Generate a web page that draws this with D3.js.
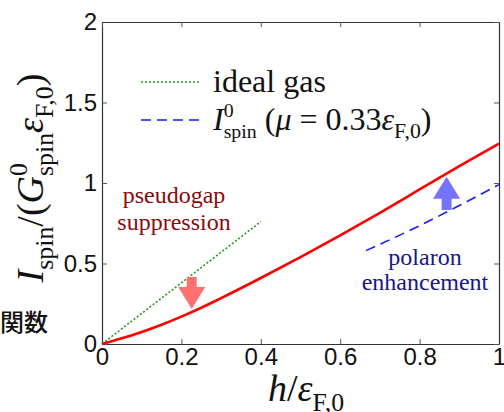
<!DOCTYPE html>
<html>
<head>
<meta charset="utf-8">
<script src="https://cdn.jsdelivr.net/npm/d3@7"></script>
<style>
body { margin: 0; background: #fff; }
</style>
</head>
<body>
<svg width="504" height="412"></svg>
<script>
// I_spin / (G0 eF) vs h/eF  (strong coupling result)
var hVals    = [0, 0.05, 0.1, 0.15, 0.2, 0.25, 0.3, 0.4, 0.5, 0.6, 0.7, 0.8, 0.9, 1.0];
var spinVals = [0, 0.035, 0.075, 0.12, 0.17, 0.225, 0.285, 0.41, 0.54, 0.675, 0.815, 0.96, 1.105, 1.245];
// ideal gas
var idealH    = [0, 0.4];
var idealVals = [0, 0.76];
// I0_spin (mu = 0.33 eF)
var polH    = [0.665, 0.8, 0.9, 1.0];
var polVals = [0.58, 0.735, 0.86, 0.99];
// arrows: position, start value, end value
var arrowH    = [0.226, 0.868];
var arrowFrom = [0.416, 0.832];
var arrowTo   = [0.217, 1.039];

var xTicks = [0, 0.2, 0.4, 0.6, 0.8, 1];
var xTickLabels = ["0", "0.2", "0.4", "0.6", "0.8", "1"];
var yTicks = [0, 0.5, 1, 1.5, 2];
var yTickLabels = ["0", "0.5", "1", "1.5", "2"];

var SERIF = "'Liberation Serif'", SANS = "'Liberation Sans'", CJK = "'Noto Sans CJK JP'";

var svg = d3.select("svg");
var margin = {top: 22, right: 5, bottom: 68, left: 102},
    width = 504 - margin.left - margin.right,
    height = 412 - margin.top - margin.bottom;

var x = d3.scaleLinear().domain([0, 1]).range([margin.left, margin.left + width]);
var y = d3.scaleLinear().domain([0, 2]).range([margin.top + height, margin.top]);

// axes (ticks inward on all sides)
function styleAxis(g) {
  g.select(".domain").attr("stroke", "#333").attr("stroke-width", 1.2);
  g.selectAll(".tick line").attr("stroke", "#555");
  g.selectAll(".tick text")
      .style("font-family", SANS).style("font-size", "24px").attr("fill", "#111");
}
svg.append("g")
    .attr("transform", "translate(0," + y(0) + ")")
    .call(d3.axisBottom(x).tickValues(xTicks).tickSize(-5).tickSizeOuter(0).tickPadding(4)
      .tickFormat(function(d, i) { return xTickLabels[i]; }))
    .call(styleAxis);
svg.append("g")
    .attr("transform", "translate(" + x(0) + ",0)")
    .call(d3.axisLeft(y).tickValues(yTicks).tickSize(-5).tickSizeOuter(0).tickPadding(5)
      .tickFormat(function(d, i) { return yTickLabels[i]; }))
    .call(styleAxis);
svg.append("g")
    .attr("transform", "translate(0," + y(2) + ")")
    .call(d3.axisTop(x).tickValues(xTicks).tickSize(-5).tickSizeOuter(0).tickFormat(""))
    .call(styleAxis);
svg.append("g")
    .attr("transform", "translate(" + x(1) + ",0)")
    .call(d3.axisRight(y).tickValues(yTicks).tickSize(-5).tickSizeOuter(0).tickFormat(""))
    .call(styleAxis);

var line = d3.line()
    .x(function(d) { return x(d[0]); })
    .y(function(d) { return y(d[1]); });

svg.append("path")
    .datum(d3.zip(idealH, idealVals))
    .attr("d", line)
    .attr("fill", "none")
    .attr("stroke", "#1e9a1e")
    .attr("stroke-width", 1.6)
    .attr("stroke-dasharray", "2,2");

svg.append("path")
    .datum(d3.zip(polH, polVals))
    .attr("d", line.curve(d3.curveMonotoneX))
    .attr("fill", "none")
    .attr("stroke", "#1a1aff")
    .attr("stroke-width", 1.6)
    .attr("stroke-dasharray", "10,6");

svg.append("path")
    .datum(d3.zip(hVals, spinVals))
    .attr("d", line.curve(d3.curveMonotoneX))
    .attr("fill", "none")
    .attr("stroke", "#ff0000")
    .attr("stroke-width", 2.6);

// block arrows
var arrowColors = ["#ff7070", "#7474ff"];
arrowH.forEach(function(h, i) {
  var cx = x(h), ty = y(arrowFrom[i]), py = y(arrowTo[i]);
  var dir = py > ty ? 1 : -1, hl = 22, hw = 13.5, sw = 5;
  var hb = py - dir * hl;
  var pts = [[cx - sw, ty], [cx + sw, ty], [cx + sw, hb], [cx + hw, hb],
             [cx, py], [cx - hw, hb], [cx - sw, hb]];
  svg.append("polygon")
      .attr("points", pts.map(function(p) { return p.join(","); }).join(" "))
      .attr("fill", arrowColors[i]);
});

// rich text: runs of {s, f: size factor, y: baseline offset (em), i: italic, back: stack over previous}
function rich(text, runs, size) {
  var cur = 0, prev = null;
  text.style("font-family", SERIF).style("font-size", size + "px");
  runs.forEach(function(r) {
    var f = r.f || 1, off = (r.y || 0) * size;
    var t = text.append("tspan").text(r.s)
        .style("font-family", SERIF)
        .style("font-size", (size * f) + "px")
        .style("font-style", r.i ? "italic" : "normal")
        .attr("dy", off - cur);
    if (r.back && prev) t.attr("dx", -prev.node().getComputedTextLength());
    cur = off; prev = t;
  });
}
var SUB = 0.25, SUP = -0.42, SF = 0.68;

// legend
svg.append("line").attr("x1", 141).attr("x2", 200).attr("y1", 82).attr("y2", 82)
    .attr("stroke", "#1e9a1e").attr("stroke-width", 1.6).attr("stroke-dasharray", "2,2");
svg.append("line").attr("x1", 141).attr("x2", 200).attr("y1", 120).attr("y2", 120)
    .attr("stroke", "#1a1aff").attr("stroke-width", 1.6).attr("stroke-dasharray", "10,6");
svg.append("text").attr("x", 213).attr("y", 92)
    .style("font-family", SERIF).style("font-size", "32px").attr("fill", "#111")
    .text("ideal gas");
rich(svg.append("text").attr("x", 213).attr("y", 130).attr("fill", "#111"), [
  {s: "I", i: true},
  {s: "0", f: 0.62, y: -0.4},
  {s: "spin", f: 0.62, y: SUB, back: true},
  {s: "\u00a0("},
  {s: "\u03bc", i: true},
  {s: "\u00a0=\u00a00.33"},
  {s: "\u03b5", i: true},
  {s: "F,0", f: SF, y: SUB},
  {s: ")"}
], 32);

// annotations
var ann = svg.append("text").style("font-family", SERIF).style("font-size", "24px")
    .attr("fill", "#8b0a0a").attr("text-anchor", "middle");
ann.append("tspan").attr("x", 174).attr("y", 203).text("pseudogap");
ann.append("tspan").attr("x", 174).attr("y", 230).text("suppression");
var ann2 = svg.append("text").style("font-family", SERIF).style("font-size", "24px")
    .attr("fill", "#16168a").attr("text-anchor", "middle");
ann2.append("tspan").attr("x", 425).attr("y", 265).text("polaron");
ann2.append("tspan").attr("x", 425).attr("y", 290).text("enhancement");

// axis titles
rich(svg.append("text").attr("x", 268).attr("y", 401).attr("fill", "#111"), [
  {s: "h", i: true},
  {s: "/"},
  {s: "\u03b5", i: true},
  {s: "F,0", f: SF, y: SUB}
], 38);

rich(svg.append("text")
    .attr("transform", "translate(43,178) rotate(-90)")
    .attr("text-anchor", "middle")
    .attr("fill", "#111"), [
  {s: "I", i: true},
  {s: "spin", f: SF, y: SUB},
  {s: "/(", y: 0},
  {s: "G", i: true},
  {s: "0", f: SF, y: SUP},
  {s: "spin", f: SF, y: SUB, back: true},
  {s: "\u03b5", i: true, y: 0},
  {s: "F,0", f: SF, y: SUB},
  {s: ")", y: 0}
], 38);

svg.append("text").attr("x", 0).attr("y", 331)
    .style("font-family", CJK).style("font-size", "24px").style("font-weight", 500)
    .attr("fill", "#111")
    .text("関数");
</script>
</body>
</html>
